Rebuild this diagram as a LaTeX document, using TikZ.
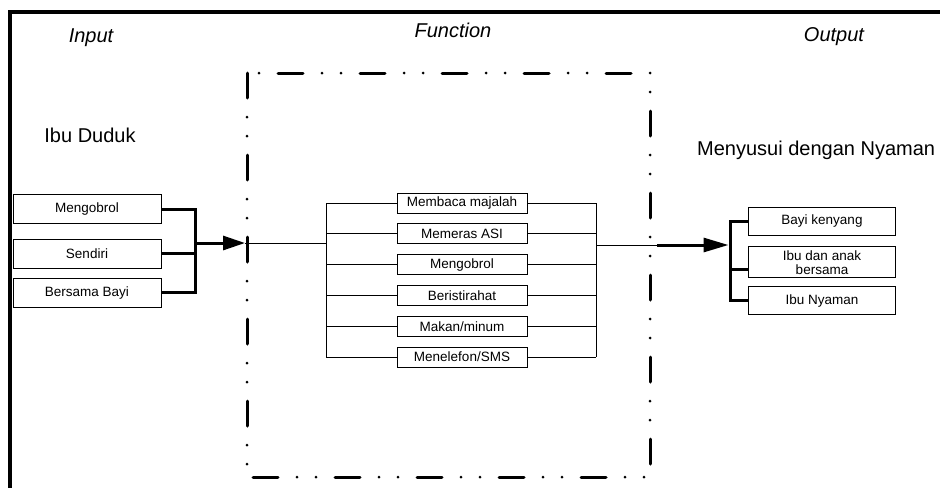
\documentclass[tikz,border=0pt]{standalone}
\usepackage{fontspec}
\setmainfont{Liberation Sans}
\usetikzlibrary{positioning,arrows.meta}

\begin{document}
\begin{tikzpicture}[
    x=1pt, y=-1pt,
    inbox/.style={
        rectangle,
        draw=black, line width=0.8pt,
        minimum width=148pt,
        minimum height=29pt,
        inner sep=0pt,
        font=\fontsize{13.5}{14}\selectfont,
        align=center
    },
    actbox/.style={inbox, minimum width=130pt, minimum height=20pt},
    outbox/.style={inbox, minimum width=147pt, minimum height=28pt},
    heading/.style={inner sep=0pt, font=\fontsize{20}{24}\selectfont\itshape},
    bigtext/.style={inner sep=0pt, font=\fontsize{20}{24}\selectfont},
    busline/.style={line width=3pt},
    thinline/.style={line width=1pt},
    frameline/.style={line width=3.5pt},
    funcframe/.style={
        line width=3pt, line cap=round,
        dash pattern=on 25pt off 19pt on 0pt off 19pt on 0pt off 19pt
    }
]
\useasboundingbox (0,0) rectangle (940,488);

\draw[frameline] (940,12) -- (10,12) -- (10,488);
\draw[funcframe] (247,73) -- (247,477) -- (650,477) -- (650,73) -- cycle;

\node[heading] (hin) at (91,38) {Input};
\node[heading] (hfn) at (453,30) {Function};
\node[heading] (hout) at (834,37) {Output};
\node[bigtext] (sit) at (90,135) {Ibu Duduk};
\node[bigtext, anchor=west] (res) at (697,150) {Menyusui dengan Nyaman};

\node[inbox] (in1) at (87,209) {Mengobrol};
\node[inbox, below=15pt of in1] (in2) {Sendiri};
\node[inbox, below=9pt of in2] (in3) {Bersama Bayi};

\node[actbox] (f1) at (462,203) {Membaca majalah};
\node[actbox, below=10pt of f1] (f2) {Memeras ASI};
\node[actbox, below=10pt of f2] (f3) {Mengobrol};
\node[actbox, below=10pt of f3] (f4) {Beristirahat};
\node[actbox, below=10pt of f4] (f5) {Makan/minum};
\node[actbox, below=10pt of f5] (f6) {Menelefon/SMS};

\node[outbox] (o1) at (822,221) {Bayi kenyang};
\node[outbox, minimum height=31pt, below=11pt of o1] (o2) {Ibu dan anak\\bersama};
\node[outbox, below=8pt of o2] (o3) {Ibu Nyaman};

\coordinate (inbus) at (195,243);
\coordinate (fin) at (245,243);
\coordinate (fl) at (326,243);
\coordinate (fr) at (596,245);
\coordinate (fx) at (657,245);
\coordinate (obus) at (730,245);
\coordinate (o2j) at ([yshift=-7pt]o2.west);

\draw[busline] (in1.east) -| (inbus) |- (in3.east);
\draw[busline] (in2.east) -- (in2.east -| inbus);
\draw[busline, -{Triangle[length=22pt, width=14pt]}] (inbus) -- (fin);
\draw[thinline] (fin) -- (fl);

\foreach \i in {1,...,6} {
    \draw[thinline] (f\i.west -| fl) -- (f\i.west);
    \draw[thinline] (f\i.east) -- (f\i.east -| fr);
}
\draw[thinline] (f1.west -| fl) -- (f6.west -| fl);
\draw[thinline] (f1.east -| fr) -- (f6.east -| fr);

\draw[thinline] (fr) -- (fx);
\draw[busline, -{Triangle[length=25pt, width=14pt]}, shorten >=1.5pt] (fx) -- (obus);
\draw[busline] (o1.west) -| (obus) |- (o3.west);
\draw[busline] (o2j) -- (o2j -| obus);

\end{tikzpicture}
\end{document}
